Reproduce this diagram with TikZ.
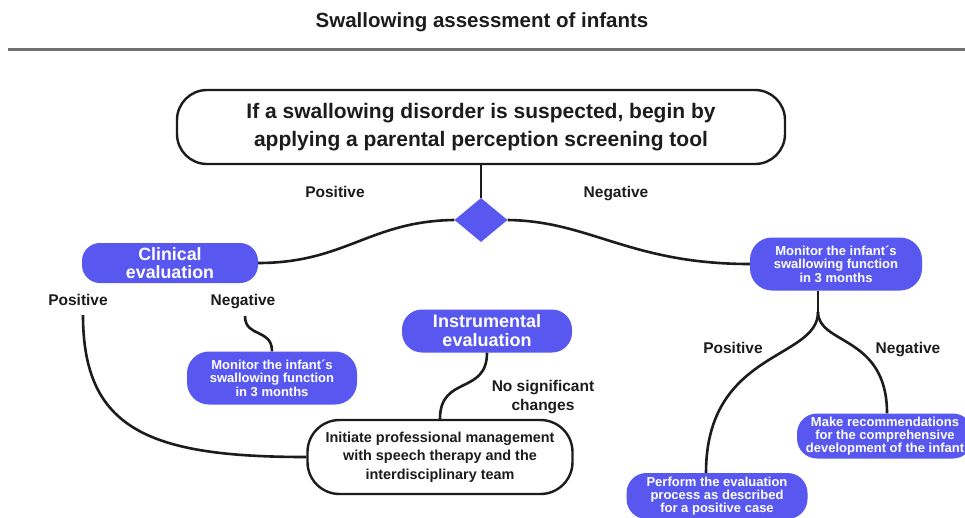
\documentclass[tikz,border=0pt]{standalone}
\usepackage{fontspec}
\setmainfont{Liberation Sans}
\usetikzlibrary{shapes.geometric}
\definecolor{boxblue}{RGB}{88,88,240}
\definecolor{rulegray}{RGB}{112,112,112}
\definecolor{ink}{RGB}{28,28,28}
\begin{document}
\begin{tikzpicture}[x=1pt,y=-1pt,
  conn/.style={line width=2.6pt, draw=ink},
  bluebox/.style={rectangle, fill=boxblue, text=white, align=center, inner sep=0pt},
  whitebox/.style={rectangle, draw=ink, line width=2.4pt, fill=white, text=ink, align=center, inner sep=0pt},
  labtext/.style={font=\fontsize{15.5}{18.5}\selectfont\bfseries, text=ink, inner sep=0pt, align=center},
  lab/.style={labtext, text height=11.2pt, text depth=3.4pt},
  small/.style={font=\fontsize{13}{13.3}\selectfont\bfseries}
]
\useasboundingbox (0,0) rectangle (965,517);
\fill[white] (0,0) rectangle (965,517);

\node[font=\fontsize{20.5}{24}\selectfont\bfseries, text=ink] (title) at (482,22) {Swallowing assessment of infants};
\draw[rulegray, line width=3pt] (8,49) -- (965,49);

\node[whitebox, rounded corners=30pt, minimum width=608pt, minimum height=74pt,
      font=\fontsize{21}{28}\selectfont\bfseries] (top) at (481,127)
  {If a swallowing disorder is suspected, begin by\\applying a parental perception screening tool};

\node[diamond, fill=boxblue, minimum width=53pt, minimum height=44pt, inner sep=0pt] (dia) at (481,220) {};

\node[lab] (posT) at (335,194) {Positive};
\node[lab] (negT) at (616,194) {Negative};

\node[bluebox, rounded corners=18pt, minimum width=176pt, minimum height=40pt,
      font=\fontsize{17.8}{18}\selectfont\bfseries] (clin) at (170,263) {Clinical\\evaluation};

\node[bluebox, small, rounded corners=22pt, minimum width=172pt, minimum height=53pt] (monR) at (836,264)
  {Monitor the infant´s\\swallowing function\\in 3 months};

\node[lab] (posL) at (78,302) {Positive};
\node[lab] (negL) at (243,302) {Negative};

\node[bluebox, small, rounded corners=22pt, minimum width=170pt, minimum height=53pt] (monL) at (272,378)
  {Monitor the infant´s\\swallowing function\\in 3 months};

\node[bluebox, rounded corners=20pt, minimum width=170pt, minimum height=43pt,
      font=\fontsize{18}{19}\selectfont\bfseries] (instr) at (487,331) {Instrumental\\evaluation};

\node[labtext] (nochg) at (543,397) {No significant\\changes};

\node[whitebox, rounded corners=32pt, minimum width=265pt, minimum height=74pt,
      font=\fontsize{14.4}{18.5}\selectfont\bfseries] (init) at (440,457)
  {Initiate professional management\\with speech therapy and the\\interdisciplinary team};

\node[lab] (posR) at (733,350) {Positive};
\node[lab] (negR) at (908,350) {Negative};

\node[bluebox, small, rounded corners=20pt, minimum width=176pt, minimum height=45pt] (make) at (885,436)
  {Make recommendations\\for the comprehensive\\development of the infant};

\node[bluebox, small, rounded corners=20pt, minimum width=181pt, minimum height=46pt] (perf) at (717,496)
  {Perform the evaluation\\process as described\\for a positive case};

% connectors
\draw[conn] (top.south) -- (dia.north);
\draw[conn] (dia.west) .. controls (370,221) and (345,263) .. (clin.east);
\draw[conn] (dia.east) .. controls (590,221) and (630,264) .. (monR.west);
\coordinate (pl) at (83,315);
\draw[conn] (pl) .. controls (83,430) and (150,457) .. (init.west);
\coordinate (nl) at (245,316);
\draw[conn] (nl) .. controls (245,338) and (272,328) .. (monL.north);
\draw[conn] (instr.south) .. controls (487,395) and (440,375) .. (init.north);
\coordinate (br) at (818,312);
\coordinate (pk) at (706,470);
\coordinate (mk) at (887,410);
\draw[conn] (monR.south -| br) -- (br);
\draw[conn] (br) .. controls (818,360) and (706,350) .. (perf.north -| pk);
\draw[conn] (br) .. controls (818,345) and (887,335) .. (make.north -| mk);
\end{tikzpicture}
\end{document}
